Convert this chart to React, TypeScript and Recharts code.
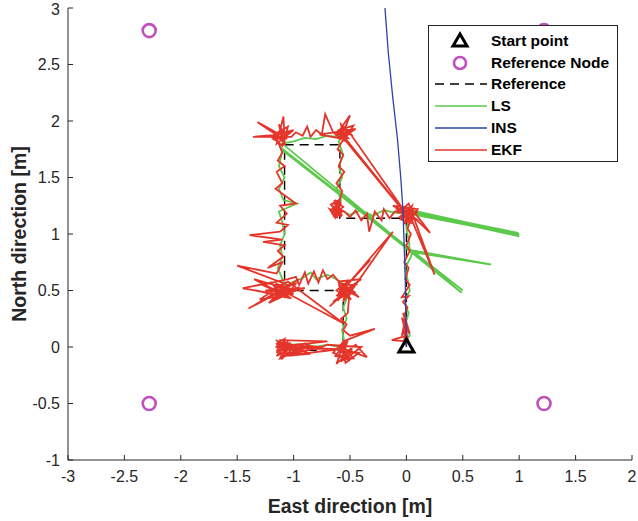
import { ScatterChart, Scatter, XAxis, YAxis, Legend } from 'recharts'

type Pt = { x: number; y: number }

const xTicks = [-3, -2.5, -2, -1.5, -1, -0.5, 0, 0.5, 1, 1.5, 2]
const yTicks = [-1, -0.5, 0, 0.5, 1, 1.5, 2, 2.5, 3]

const startPoint: Pt[] = [{ x: 0, y: 0 }]

const referenceNodes: Pt[] = [
  { x: -2.28, y: 2.8 },
  { x: 1.22, y: 2.8 },
  { x: -2.28, y: -0.5 },
  { x: 1.22, y: -0.5 },
]

const referencePath: Pt[] = [
  { x: 0, y: 0 },
  { x: 0, y: 1.14 },
  { x: -0.59, y: 1.14 },
  { x: -0.59, y: 1.79 },
  { x: -1.08, y: 1.79 },
  { x: -1.08, y: 0.5 },
  { x: -0.56, y: 0.5 },
  { x: -0.56, y: -0.03 },
  { x: -1.03, y: -0.03 },
]

const insPath: Pt[] = [
  { x: 0, y: 0 },
  { x: -0.005, y: 0.3 },
  { x: -0.01, y: 0.6 },
  { x: -0.02, y: 0.9 },
  { x: -0.03, y: 1.2 },
  { x: -0.05, y: 1.5 },
  { x: -0.08, y: 1.85 },
  { x: -0.12, y: 2.2 },
  { x: -0.16, y: 2.6 },
  { x: -0.19, y: 3.0 },
]

const lsPath: Pt[] = [
  { x: 0, y: 0.02 }, { x: -0.02, y: 0.06 }, { x: 0.03, y: 0.1 }, { x: -0.01, y: 0.2 },
  { x: 0.02, y: 0.3 }, { x: -0.02, y: 0.4 }, { x: 0.03, y: 0.5 }, { x: 0.01, y: 0.6 },
  { x: -0.01, y: 0.7 }, { x: 0.04, y: 0.8 }, { x: 0.05, y: 0.84 }, { x: 0.75, y: 0.73 },
  { x: 0.03, y: 0.86 }, { x: 0.02, y: 0.95 }, { x: 0.0, y: 1.05 }, { x: 0.03, y: 1.15 },
  { x: 0.07, y: 1.19 }, { x: 1.0, y: 1.0 }, { x: 0.05, y: 1.21 }, { x: 1.0, y: 0.98 },
  { x: 0.09, y: 1.18 }, { x: 0.99, y: 1.01 }, { x: 0.04, y: 1.2 }, { x: 1.0, y: 0.99 },
  { x: 0.02, y: 1.18 }, { x: -0.1, y: 1.19 },
  { x: -0.2, y: 1.21 }, { x: -0.3, y: 1.16 }, { x: -0.4, y: 1.21 }, { x: -0.5, y: 1.17 },
  { x: -0.6, y: 1.22 }, { x: -0.58, y: 1.3 }, { x: -0.62, y: 1.4 }, { x: -0.57, y: 1.5 },
  { x: -0.6, y: 1.6 }, { x: -0.56, y: 1.7 }, { x: -0.6, y: 1.82 }, { x: -0.54, y: 1.9 },
  { x: -0.62, y: 1.86 }, { x: -0.7, y: 1.87 }, { x: -0.8, y: 1.84 }, { x: -0.9, y: 1.85 },
  { x: -1.0, y: 1.82 }, { x: -1.1, y: 1.8 }, { x: 0.49, y: 0.48 }, { x: -1.12, y: 1.77 },
  { x: 0.5, y: 0.5 }, { x: -1.1, y: 1.74 }, { x: -1.13, y: 1.6 }, { x: -1.08, y: 1.5 },
  { x: -1.13, y: 1.4 }, { x: -1.09, y: 1.3 }, { x: -0.97, y: 1.27 }, { x: -1.13, y: 1.2 },
  { x: -1.1, y: 1.1 }, { x: -1.08, y: 1.0 }, { x: -1.12, y: 0.9 }, { x: -1.1, y: 0.8 },
  { x: -1.14, y: 0.7 }, { x: -1.1, y: 0.6 }, { x: -1.07, y: 0.54 }, { x: -1.0, y: 0.58 },
  { x: -0.92, y: 0.61 }, { x: -0.85, y: 0.66 }, { x: -0.8, y: 0.6 }, { x: -0.7, y: 0.64 },
  { x: -0.62, y: 0.6 }, { x: -0.55, y: 0.55 }, { x: -0.52, y: 0.45 }, { x: -0.56, y: 0.35 },
  { x: -0.53, y: 0.25 }, { x: -0.57, y: 0.15 }, { x: -0.55, y: 0.05 }, { x: -0.6, y: 0.0 },
  { x: -0.7, y: 0.02 }, { x: -0.8, y: 0.0 }, { x: -0.9, y: 0.03 }, { x: -1.0, y: 0.02 },
  { x: -1.1, y: 0.03 }, { x: -1.16, y: 0.06 },
]

const ekfPath: Pt[] = [
  // start, heading north
  { x: 0, y: 0.02 }, { x: -0.02, y: 0.08 }, { x: 0.01, y: 0.05 }, { x: -0.13, y: 0.06 },
  { x: 0.0, y: 0.1 }, { x: -0.03, y: 0.15 }, { x: 0.02, y: 0.04 }, { x: -0.02, y: 0.2 },
  { x: 0.03, y: 0.12 }, { x: -0.01, y: 0.25 }, { x: -0.04, y: 0.1 }, { x: 0.01, y: 0.18 },
  { x: -0.02, y: 0.03 }, { x: 0.0, y: 0.22 }, { x: -0.03, y: 0.3 }, { x: 0.02, y: 0.14 },
  { x: -0.04, y: 0.26 }, { x: 0.01, y: 0.07 }, { x: -0.02, y: 0.28 },
  { x: 0.01, y: 0.35 }, { x: -0.03, y: 0.4 }, { x: 0.02, y: 0.45 }, { x: -0.04, y: 0.44 },
  { x: 0.03, y: 0.55 }, { x: -0.01, y: 0.6 }, { x: 0.02, y: 0.7 }, { x: -0.02, y: 0.75 },
  { x: 0.03, y: 0.85 }, { x: 0.0, y: 0.9 }, { x: 0.04, y: 1.0 }, { x: 0.01, y: 1.05 },
  { x: 0.03, y: 1.1 },
  // corner near (0, 1.17)
  { x: 0.06, y: 1.22 }, { x: -0.05, y: 1.13 }, { x: 0.04, y: 1.1 }, { x: -0.03, y: 1.24 },
  { x: 0.21, y: 1.01 }, { x: 0.08, y: 1.18 }, { x: -0.07, y: 1.19 }, { x: 0.02, y: 1.27 },
  { x: 0.25, y: 0.64 }, { x: 0.05, y: 1.12 }, { x: -0.04, y: 1.16 }, { x: 0.1, y: 1.2 },
  { x: -0.02, y: 1.09 }, { x: 0.03, y: 1.23 }, { x: -0.08, y: 1.22 }, { x: 0.07, y: 1.14 },
  { x: 0.0, y: 1.19 }, { x: -0.12, y: 1.25 }, { x: 0.1, y: 1.22 }, { x: 0.0, y: 1.1 },
  { x: 0.05, y: 1.25 }, { x: -0.06, y: 1.15 }, { x: 0.09, y: 1.13 }, { x: -0.01, y: 1.21 },
  // west along the lower step
  { x: -0.1, y: 1.2 }, { x: -0.15, y: 1.14 }, { x: -0.2, y: 1.22 }, { x: -0.22, y: 1.12 },
  { x: -0.28, y: 1.2 }, { x: -0.33, y: 1.02 }, { x: -0.35, y: 1.18 }, { x: -0.4, y: 1.12 },
  { x: -0.45, y: 1.21 }, { x: -0.5, y: 1.15 }, { x: -0.55, y: 1.2 },
  // dense blob near (-0.62, 1.21)
  { x: -0.66, y: 1.25 }, { x: -0.58, y: 1.17 }, { x: -0.64, y: 1.16 }, { x: -0.59, y: 1.27 },
  { x: -0.67, y: 1.2 }, { x: -0.6, y: 1.23 }, { x: -0.65, y: 1.28 }, { x: -0.57, y: 1.2 },
  { x: -0.63, y: 1.14 }, { x: -0.68, y: 1.22 }, { x: -0.6, y: 1.18 }, { x: -0.62, y: 1.29 },
  { x: -0.56, y: 1.24 }, { x: -0.66, y: 1.17 }, { x: -0.61, y: 1.21 }, { x: -0.64, y: 1.3 },
  { x: -0.58, y: 1.15 }, { x: -0.67, y: 1.26 }, { x: -0.6, y: 1.3 }, { x: -0.65, y: 1.19 },
  { x: -0.59, y: 1.22 }, { x: -0.63, y: 1.27 }, { x: -0.57, y: 1.16 }, { x: -0.66, y: 1.23 },
  { x: -0.61, y: 1.14 }, { x: -0.64, y: 1.2 }, { x: -0.58, y: 1.28 }, { x: -0.62, y: 1.17 },
  // north
  { x: -0.57, y: 1.38 }, { x: -0.62, y: 1.45 }, { x: -0.55, y: 1.55 }, { x: -0.6, y: 1.6 },
  { x: -0.56, y: 1.7 }, { x: -0.61, y: 1.75 }, { x: -0.57, y: 1.82 },
  // corner near (-0.56, 1.87)
  { x: -0.5, y: 1.9 }, { x: -0.62, y: 1.88 }, { x: -0.5, y: 2.05 }, { x: -0.58, y: 1.85 },
  { x: -0.45, y: 1.93 }, { x: -0.77, y: 1.88 }, { x: -0.55, y: 1.84 }, { x: 0.0, y: 1.17 },
  { x: -0.56, y: 1.87 }, { x: 0.02, y: 1.15 }, { x: -0.52, y: 1.92 }, { x: -0.6, y: 1.84 },
  { x: -0.54, y: 1.95 }, { x: -0.62, y: 1.9 }, { x: -0.49, y: 1.88 }, { x: -0.58, y: 1.97 },
  { x: -0.55, y: 1.83 }, { x: -0.47, y: 1.96 }, { x: -0.6, y: 1.92 }, { x: -0.52, y: 1.85 },
  { x: -0.6, y: 1.86 },
  // west along the top
  { x: -0.65, y: 1.9 }, { x: -0.72, y: 2.06 }, { x: -0.75, y: 1.88 }, { x: -0.8, y: 1.92 },
  { x: -0.85, y: 1.86 }, { x: -0.88, y: 1.95 }, { x: -0.92, y: 1.87 }, { x: -0.98, y: 1.9 },
  { x: -1.02, y: 1.86 },
  // corner near (-1.1, 1.86)
  { x: -1.36, y: 1.86 }, { x: -1.12, y: 1.88 }, { x: -1.32, y: 1.99 }, { x: -1.08, y: 1.83 },
  { x: -1.09, y: 2.04 }, { x: -1.15, y: 1.8 }, { x: -1.0, y: 1.92 }, { x: -1.2, y: 1.87 },
  { x: -1.1, y: 1.78 }, { x: -1.05, y: 1.95 }, { x: -1.14, y: 1.9 }, { x: -1.06, y: 1.84 },
  { x: -1.12, y: 1.95 }, { x: -1.08, y: 1.8 }, { x: -1.16, y: 1.88 }, { x: -1.04, y: 1.91 },
  { x: -1.1, y: 1.83 }, { x: -1.13, y: 1.97 }, { x: -1.07, y: 1.87 }, { x: -1.18, y: 1.84 },
  { x: -1.14, y: 1.82 },
  // south along the west side
  { x: -1.1, y: 1.72 }, { x: -1.14, y: 1.65 }, { x: -1.08, y: 1.6 }, { x: -1.15, y: 1.55 },
  { x: -1.1, y: 1.45 }, { x: -1.16, y: 1.4 }, { x: -1.09, y: 1.35 }, { x: -0.98, y: 1.27 },
  { x: -1.12, y: 1.25 }, { x: -1.06, y: 1.18 }, { x: -1.15, y: 1.1 }, { x: -1.05, y: 1.08 },
  { x: -1.12, y: 1.02 }, { x: -1.39, y: 0.99 }, { x: -1.1, y: 0.95 }, { x: -1.27, y: 0.93 },
  { x: -1.08, y: 0.9 }, { x: -1.14, y: 0.85 }, { x: -1.09, y: 0.8 }, { x: -1.23, y: 0.7 },
  { x: -1.1, y: 0.75 }, { x: -1.15, y: 0.65 },
  // corner near (-1.06, 0.52)
  { x: -1.5, y: 0.72 }, { x: -1.05, y: 0.55 }, { x: -1.2, y: 0.45 }, { x: -0.95, y: 0.6 },
  { x: -1.4, y: 0.34 }, { x: -1.1, y: 0.5 }, { x: -0.9, y: 0.52 }, { x: -1.25, y: 0.5 },
  { x: -1.0, y: 0.47 }, { x: -1.3, y: 0.42 }, { x: -1.1, y: 0.55 }, { x: -1.02, y: 0.48 },
  { x: -1.15, y: 0.5 }, { x: -0.98, y: 0.56 }, { x: -1.08, y: 0.44 }, { x: -1.2, y: 0.57 },
  { x: -1.45, y: 0.52 }, { x: -1.12, y: 0.46 }, { x: -0.95, y: 0.53 }, { x: -1.18, y: 0.42 },
  { x: -1.1, y: 0.5 }, { x: -0.56, y: 0.21 }, { x: -1.05, y: 0.58 }, { x: -1.25, y: 0.48 },
  { x: -1.02, y: 0.43 }, { x: -1.35, y: 0.6 }, { x: -1.08, y: 0.52 }, { x: -1.22, y: 0.39 },
  { x: -0.98, y: 0.5 }, { x: -1.16, y: 0.56 }, { x: -1.05, y: 0.45 }, { x: -1.28, y: 0.55 },
  { x: -1.05, y: 0.6 },
  // east along the middle step
  { x: -0.98, y: 0.62 }, { x: -0.95, y: 0.55 }, { x: -0.9, y: 0.66 }, { x: -0.87, y: 0.56 },
  { x: -0.82, y: 0.67 }, { x: -0.78, y: 0.57 }, { x: -0.74, y: 0.68 }, { x: -0.7, y: 0.6 },
  { x: -0.65, y: 0.64 }, { x: -0.6, y: 0.58 },
  // corner near (-0.55, 0.5)
  { x: -0.4, y: 0.6 }, { x: -0.62, y: 0.45 }, { x: -0.32, y: 0.77 }, { x: -0.55, y: 0.52 },
  { x: -0.12, y: 1.02 }, { x: -0.5, y: 0.48 }, { x: -0.65, y: 0.4 }, { x: -0.45, y: 0.55 },
  { x: -0.58, y: 0.55 }, { x: -0.5, y: 0.47 }, { x: -0.6, y: 0.44 }, { x: -0.47, y: 0.53 },
  { x: -0.56, y: 0.4 }, { x: -0.52, y: 0.58 }, { x: -0.62, y: 0.5 }, { x: -0.49, y: 0.42 },
  { x: -0.57, y: 0.52 }, { x: -0.45, y: 0.48 }, { x: -0.6, y: 0.57 }, { x: -0.58, y: 0.45 },
  { x: -0.68, y: 0.36 }, { x: -0.53, y: 0.5 }, { x: -0.42, y: 0.44 }, { x: -0.56, y: 0.56 },
  { x: -0.61, y: 0.41 }, { x: -0.5, y: 0.53 },
  // south along the lower east side
  { x: -0.52, y: 0.3 }, { x: -0.58, y: 0.25 }, { x: -0.53, y: 0.2 }, { x: -0.56, y: 0.15 },
  { x: -0.5, y: 0.1 }, { x: -0.28, y: 0.16 }, { x: -0.56, y: 0.05 },
  // corner near (-0.56, -0.05)
  { x: -0.6, y: -0.1 }, { x: -0.45, y: 0.02 }, { x: -0.35, y: -0.09 }, { x: -0.6, y: 0.0 },
  { x: -0.5, y: -0.12 }, { x: -0.65, y: -0.05 }, { x: -0.55, y: 0.05 }, { x: -0.62, y: -0.15 },
  { x: -0.48, y: -0.02 }, { x: -0.58, y: -0.13 }, { x: -0.52, y: 0.06 }, { x: -0.63, y: -0.08 },
  { x: -0.47, y: -0.1 }, { x: -0.57, y: 0.02 }, { x: -0.54, y: -0.14 }, { x: -0.42, y: -0.05 },
  { x: -0.59, y: -0.04 }, { x: -0.51, y: -0.08 }, { x: -0.56, y: -0.12 }, { x: -0.4, y: 0.0 },
  // west along the bottom, going back and forth
  { x: -0.7, y: 0.02 }, { x: -0.8, y: -0.02 }, { x: -0.9, y: 0.03 }, { x: -1.0, y: -0.04 },
  { x: -1.1, y: 0.02 }, { x: -1.15, y: -0.05 }, { x: -1.12, y: 0.06 }, { x: -0.7, y: 0.05 },
  { x: -1.16, y: 0.0 }, { x: -0.6, y: -0.02 }, { x: -1.1, y: -0.08 }, { x: -0.85, y: -0.06 },
  { x: -1.14, y: 0.04 }, { x: -0.9, y: 0.0 }, { x: -1.12, y: -0.1 }, { x: -1.05, y: 0.05 },
  { x: -1.13, y: -0.06 }, { x: -1.08, y: 0.07 }, { x: -1.15, y: 0.03 }, { x: -1.1, y: -0.09 },
  { x: -0.95, y: -0.03 }, { x: -1.14, y: 0.05 }, { x: -1.06, y: -0.07 }, { x: -0.75, y: 0.0 },
  { x: -1.12, y: 0.02 }, { x: -1.09, y: -0.04 }, { x: -1.03, y: 0.04 }, { x: -1.11, y: -0.11 },
  { x: -0.97, y: 0.02 }, { x: -1.15, y: -0.08 }, { x: -1.07, y: 0.03 }, { x: -0.88, y: -0.04 },
  { x: -1.13, y: 0.01 }, { x: -1.01, y: -0.08 }, { x: -1.08, y: 0.05 }, { x: -1.12, y: -0.03 },
]

const FONT = '"Liberation Sans", Arial, Helvetica, sans-serif'
const INK = '#262626'
const RED = '#e5352a'
const GREEN = '#5cc84c'
const BLUE = '#2c43a8'
const MAGENTA = '#c24fc0'

const tickStyle = { fontSize: 16, fill: INK, fontFamily: FONT }

const noDot = () => <g />

const Triangle = (p: any) => (
  <polygon
    points={`${p.cx},${p.cy - 8} ${p.cx - 7.5},${p.cy + 5} ${p.cx + 7.5},${p.cy + 5}`}
    fill="none"
    stroke="#000"
    strokeWidth={3}
    strokeLinejoin="miter"
  />
)

const Ring = (p: any) => <circle cx={p.cx} cy={p.cy} r={6.5} fill="none" stroke={MAGENTA} strokeWidth={2.6} />

const legendRows = [
  { name: 'Start point', kind: 'tri' },
  { name: 'Reference Node', kind: 'ring' },
  { name: 'Reference', kind: 'dash' },
  { name: 'LS', kind: 'ls' },
  { name: 'INS', kind: 'ins' },
  { name: 'EKF', kind: 'ekf' },
]

function LegendBox() {
  return (
    <div
      style={{
        width: 190,
        height: 137,
        boxSizing: 'border-box',
        border: `1px solid ${INK}`,
        background: '#fff',
        paddingTop: 4,
        fontFamily: FONT,
        fontWeight: 'bold',
        fontSize: 15.5,
        color: '#000',
      }}
    >
      {legendRows.map((r) => (
        <div key={r.name} style={{ height: 21.8, display: 'flex', alignItems: 'center' }}>
          <svg width={62} height={20} style={{ flex: 'none' }}>
            {r.kind === 'tri' && (
              <polygon points="31,3 24,15 38,15" fill="none" stroke="#000" strokeWidth={3} />
            )}
            {r.kind === 'ring' && <circle cx={31} cy={10} r={6} fill="none" stroke={MAGENTA} strokeWidth={2.6} />}
            {r.kind === 'dash' && <line x1={6} x2={58} y1={10} y2={10} stroke="#000" strokeWidth={1.3} strokeDasharray="9 6" />}
            {r.kind === 'ls' && <line x1={6} x2={58} y1={10} y2={10} stroke={GREEN} strokeWidth={1.3} />}
            {r.kind === 'ins' && <line x1={6} x2={58} y1={10} y2={10} stroke={BLUE} strokeWidth={1.3} />}
            {r.kind === 'ekf' && <line x1={6} x2={58} y1={10} y2={10} stroke={RED} strokeWidth={1.3} />}
          </svg>
          <span>{r.name}</span>
        </div>
      ))}
    </div>
  )
}

export default function App() {
  return (
    <div style={{ position: 'absolute', left: 0, top: 0, background: '#fff' }}>
      <ScatterChart width={638} height={521} margin={{ top: 8, right: 6, bottom: 0, left: 0 }}>
        <XAxis
          type="number"
          dataKey="x"
          domain={[-3, 2]}
          ticks={xTicks}
          allowDataOverflow
          height={61}
          tickSize={-5}
          tickMargin={16}
          tick={tickStyle}
          stroke={INK}
          label={{ value: 'East direction [m]', position: 'insideBottom', offset: 8, style: { fontSize: 19.5, fontWeight: 'bold', fill: INK, fontFamily: FONT } }}
        />
        <XAxis
          xAxisId="top"
          orientation="top"
          type="number"
          dataKey="x"
          domain={[-3, 2]}
          ticks={xTicks}
          allowDataOverflow
          height={0}
          tickSize={-5}
          tickFormatter={() => ''}
          stroke={INK}
        />
        <YAxis
          type="number"
          dataKey="y"
          domain={[-1, 3]}
          ticks={yTicks}
          allowDataOverflow
          width={68}
          tickSize={-5}
          tickMargin={13}
          tick={tickStyle}
          stroke={INK}
          label={{
            content: () => (
              <text
                x={21}
                y={234}
                transform="rotate(-90 21 234)"
                textAnchor="middle"
                dominantBaseline="middle"
                style={{ fontSize: 19.5, fontWeight: 'bold', fill: INK, fontFamily: FONT }}
              >
                North direction [m]
              </text>
            ),
          }}
        />
        <YAxis
          yAxisId="right"
          orientation="right"
          type="number"
          dataKey="y"
          domain={[-1, 3]}
          ticks={yTicks}
          allowDataOverflow
          width={0}
          tickSize={-5}
          tickFormatter={() => ''}
          stroke={INK}
        />
        <Legend
          layout="vertical"
          align="center"
          verticalAlign="middle"
          wrapperStyle={{ left: 428, top: 25, width: 190, height: 137 }}
          content={() => <LegendBox />}
        />
        <Scatter name="Reference" data={referencePath} shape={noDot} isAnimationActive={false}
          line={{ stroke: '#000', strokeWidth: 1.4, strokeDasharray: '9 6' }} />
        <Scatter name="LS" data={lsPath} shape={noDot} isAnimationActive={false}
          line={{ stroke: GREEN, strokeWidth: 1.8 }} />
        <Scatter name="EKF" data={ekfPath} shape={noDot} isAnimationActive={false}
          line={{ stroke: RED, strokeWidth: 1.8 }} />
        <Scatter name="INS" data={insPath} shape={noDot} isAnimationActive={false}
          line={{ stroke: BLUE, strokeWidth: 1.3 }} />
        <Scatter name="Reference Node" data={referenceNodes} shape={Ring} isAnimationActive={false} />
        <Scatter name="Start point" data={startPoint} shape={Triangle} isAnimationActive={false} />
      </ScatterChart>
    </div>
  )
}
